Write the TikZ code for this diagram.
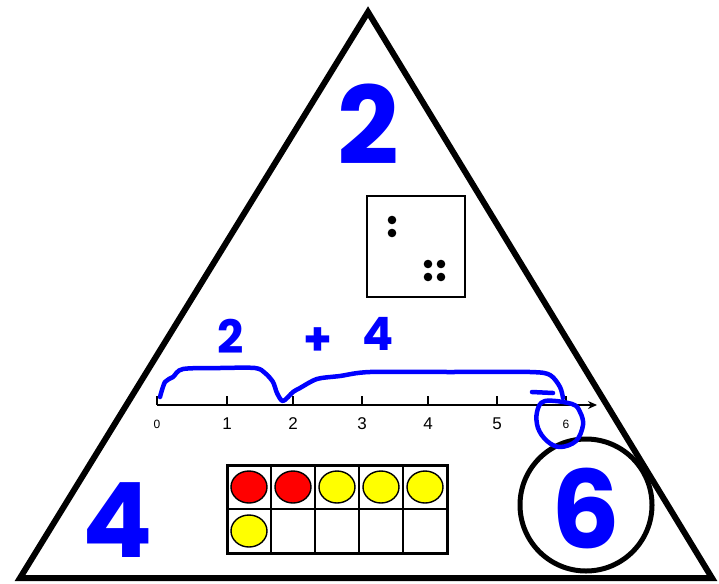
\documentclass[tikz,border=0pt]{standalone}
\usepackage{fontspec}
\setmainfont{Liberation Sans}
\newfontfamily\handfont{Poppins}
\usetikzlibrary{arrows.meta,calc}
\definecolor{ink}{RGB}{0,0,255}
\definecolor{counterred}{RGB}{255,0,0}
\definecolor{counteryellow}{RGB}{255,255,0}

\begin{document}
\begin{tikzpicture}[x=1pt, y=-1pt, >=Stealth,
    hand/.style={text=ink, inner sep=0pt},
    scribble/.style={ink, line width=4.5pt, line cap=round, line join=round},
    counter/.style={draw, line width=1.4pt}]
    \useasboundingbox (0,0) rectangle (719,583);

    % Draw fact triangle
    \draw[line width=6pt] (368,12) -- (20,578) -- (712,578) -- cycle;

    % Corner numbers
    \node[hand, font=\handfont\bfseries\fontsize{108}{108}\selectfont] (top) at (368,124) {2};
    \node[hand, font=\handfont\bfseries\fontsize{104}{104}\selectfont] (left) at (118,520) {4};
    \node[hand, font=\handfont\bfseries\fontsize{108}{108}\selectfont] (whole) at (586,508) {6};
    \draw[line width=5pt] (586,505) circle (66);

    % Dot card
    \draw[line width=2.5pt] (367,196) rectangle (465,297);
    \foreach \x/\y in {392/220,392/233,428/264,441/264,428/277,441/277} {
        \fill (\x,\y) circle (4.3);
    }

    % Handwritten sum
    \node[hand, font=\handfont\bfseries\fontsize{46}{46}\selectfont] (addA) at (231,336) {2};
    \node[hand, font=\handfont\bfseries\fontsize{46}{46}\selectfont] (plus) at (318,342) {+};
    \node[hand, font=\handfont\bfseries\fontsize{46}{46}\selectfont] (addB) at (378,334) {4};

    % Number line
    \coordinate (nlstart) at (157,405);
    \coordinate (nlend) at (597,405);
    \draw[line width=1.3pt, -{Stealth[length=9pt,width=8pt]}] (nlstart) -- (nlend);
    \foreach \v/\x/\s in {0/157/12,1/227/17,2/293/17,3/362/17,4/428/17,5/497/17,6/566/12} {
        \draw[line width=1.3pt] (\x,396) -- (\x,405);
        \node[inner sep=0pt, font=\fontsize{\s}{\s}\selectfont] (lab\v) at (\x,424) {\v};
    }

    % Jumps on the number line
    \draw[scribble] plot[smooth, tension=0.5] coordinates {
        (160,397) (165,382) (173,377) (183,369) (220,368) (255,368) (265,373)
        (273,382) (277,393) (283,401) (293,392) (300,388) (317,379) (340,376)
        (370,372) (450,372) (530,372) (550,375) (560,387) (563,398)};
    \draw[scribble] (532,392) -- (553,393);
    \draw[scribble] plot[smooth cycle, tension=0.6] coordinates {
        (545,401) (537,412) (538,428) (547,441) (560,447) (576,441)
        (583,425) (580,412) (572,404)};

    % Ten frame
    \foreach \c in {1,...,4} {
        \draw[line width=2pt] ({227+44*\c},465) -- ({227+44*\c},553);
    }
    \draw[line width=2pt] (227,509) -- (447,509);
    \draw[line width=3pt] (227,465) rectangle (447,553);
    \foreach \c/\col in {0/counterred,1/counterred,2/counteryellow,3/counteryellow,4/counteryellow} {
        \filldraw[counter, fill=\col] ({249+44*\c},487) ellipse [x radius=18, y radius=16];
    }
    \filldraw[counter, fill=counteryellow] (249,531) ellipse [x radius=18, y radius=16];
\end{tikzpicture}
\end{document}
